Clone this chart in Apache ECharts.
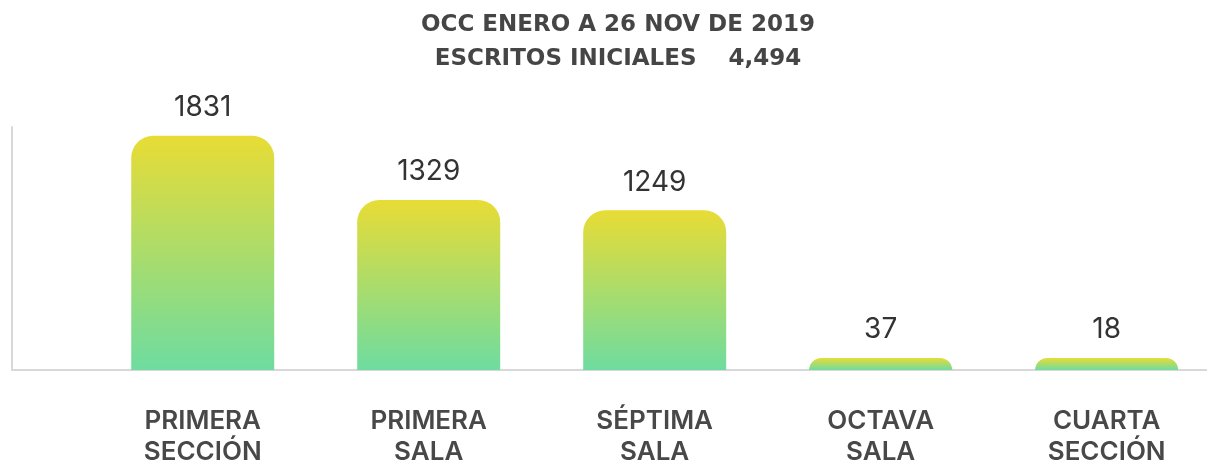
<!DOCTYPE html>
<html>
<head>
<meta charset="utf-8">
<script src="https://cdn.jsdelivr.net/npm/echarts@6/dist/echarts.min.js"></script>
<style>
  html, body { margin: 0; padding: 0; background: #fff; }
  #chart { width: 1207px; height: 464px; }
</style>
</head>
<body>
<div id="chart"></div>
<script>
const categories = ['PRIMERA\nSECCIÓN', 'PRIMERA\nSALA', 'SÉPTIMA\nSALA', 'OCTAVA\nSALA', 'CUARTA\nSECCIÓN']
const values = [1831, 1329, 1249, 37, 18]
const totalLabel = '4,494'

const chart = echarts.init(document.getElementById('chart'))

// bars sit on a value x axis so the grid can start at the y axis line
const barData = values.map((v, i) => [i, v])

chart.setOption({
  animation: false,
  title: {
    text: 'OCC ENERO A 26 NOV DE 2019\nESCRITOS INICIALES    ' + totalLabel,
    left: 613,
    textAlign: 'center',
    top: 3,
    textStyle: {
      fontFamily: 'DejaVu Sans',
      fontSize: 23,
      fontWeight: 'bold',
      color: '#454545',
      lineHeight: 34,
    },
  },
  grid: {
    left: 12,
    right: 0,
    top: 127,
    bottom: 94,
    outerBoundsMode: 'none',
  },
  xAxis: {
    type: 'value',
    min: -0.844,
    max: 4.444,
    splitLine: { show: false },
    axisTick: { show: false },
    axisLine: {
      show: true,
      lineStyle: { color: '#d8d8d8', width: 2 },
    },
    axisLabel: {
      customValues: [0, 1, 2, 3, 4],
      formatter: (v) => categories[Math.round(v)] || '',
      fontFamily: 'Inter',
      fontSize: 26,
      fontWeight: 600,
      color: '#484848',
      lineHeight: 31,
      margin: 36,
    },
  },
  yAxis: {
    type: 'value',
    min: 0,
    max: 1900,
    splitLine: { show: false },
    axisTick: { show: false },
    axisLabel: { show: false },
    axisLine: {
      show: true,
      onZero: false,
      lineStyle: { color: '#d8d8d8', width: 2 },
    },
  },
  series: [
    {
      type: 'bar',
      data: barData,
      barWidth: 143,
      barMinHeight: 12,
      itemStyle: {
        borderRadius: [22, 22, 0, 0],
        color: new echarts.graphic.LinearGradient(0, 0, 0, 1, [
          { offset: 0, color: '#e8dc35' },
          { offset: 1, color: '#6edca0' },
        ]),
      },
      label: {
        show: true,
        position: 'top',
        distance: 14,
        fontFamily: 'Inter',
        fontSize: 28,
        color: '#333',
        formatter: ({ value }) => value[1],
      },
    },
  ],
})
</script>
</body>
</html>
